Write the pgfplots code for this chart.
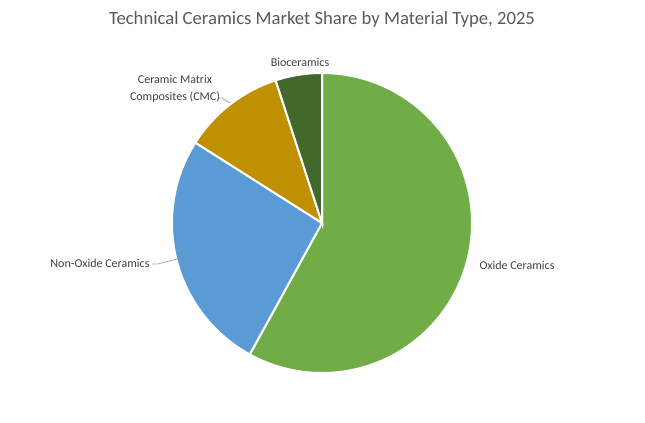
\documentclass[border=0pt]{standalone}
\usepackage{pgfplots}
\usepackage{pgfplotstable}
\pgfplotsset{compat=1.18}
\usepackage{fontspec}
\setmainfont{Carlito}
\definecolor{oxide}{HTML}{70AD47}
\definecolor{nonoxide}{HTML}{5B9BD5}
\definecolor{cmc}{HTML}{BF9000}
\definecolor{bio}{HTML}{43682B}
\definecolor{titlegray}{HTML}{595959}
\definecolor{labelgray}{HTML}{404040}
\definecolor{leader}{HTML}{A6A6A6}

\pgfplotstableread{
share
58
26
11
5
}\piedata

\begin{document}
\begin{tikzpicture}
\pgfplotstablegetelem{0}{share}\of\piedata \let\sA\pgfplotsretval
\pgfplotstablegetelem{1}{share}\of\piedata \let\sB\pgfplotsretval
\pgfplotstablegetelem{2}{share}\of\piedata \let\sC\pgfplotsretval
\pgfplotstablegetelem{3}{share}\of\piedata \let\sD\pgfplotsretval
\pgfmathsetmacro{\aA}{90-3.6*\sA}
\pgfmathsetmacro{\aB}{\aA-3.6*\sB}
\pgfmathsetmacro{\aC}{\aB-3.6*\sC}
\pgfmathsetmacro{\aD}{\aC-3.6*\sD}
\begin{axis}[
  scale only axis,
  width=483.75pt, height=316.5pt,
  xmin=0, xmax=645, ymin=0, ymax=422,
  axis lines=none, ticks=none,
  clip=false,
]
\path (axis cs:0,0) rectangle (axis cs:645,422);
\addplot[fill=oxide, draw=white, line width=1.5pt, domain=\aA:90, samples=120]
  ({322+150*cos(x)},{199+150*sin(x)}) -- (axis cs:322,199) -- cycle;
\addplot[fill=nonoxide, draw=white, line width=1.5pt, domain=\aB:\aA, samples=80]
  ({322+150*cos(x)},{199+150*sin(x)}) -- (axis cs:322,199) -- cycle;
\addplot[fill=cmc, draw=white, line width=1.5pt, domain=\aC:\aB, samples=40]
  ({322+150*cos(x)},{199+150*sin(x)}) -- (axis cs:322,199) -- cycle;
\addplot[fill=bio, draw=white, line width=1.5pt, domain=\aD:\aC, samples=30]
  ({322+150*cos(x)},{199+150*sin(x)}) -- (axis cs:322,199) -- cycle;

\addplot[leader, line width=0.6pt] coordinates {(152,158) (158,158) (177,163)};
\addplot[leader, line width=0.6pt] coordinates {(218,324) (222,324) (230,319)};

\node[text=titlegray, font=\fontsize{14pt}{17pt}\selectfont] at (axis cs:322,402) {Technical Ceramics Market Share by Material Type, 2025};
\node[text=labelgray, font=\fontsize{9pt}{11pt}\selectfont] at (axis cs:300,360) {Bioceramics};
\node[text=labelgray, font=\fontsize{9pt}{12.75pt}\selectfont, align=center] at (axis cs:175,333.5) {Ceramic Matrix\\Composites (CMC)};
\node[text=labelgray, font=\fontsize{9pt}{11pt}\selectfont] at (axis cs:100,159) {Non-Oxide Ceramics};
\node[text=labelgray, font=\fontsize{9pt}{11pt}\selectfont] at (axis cs:517,157) {Oxide Ceramics};
\end{axis}
\end{tikzpicture}
\end{document}
